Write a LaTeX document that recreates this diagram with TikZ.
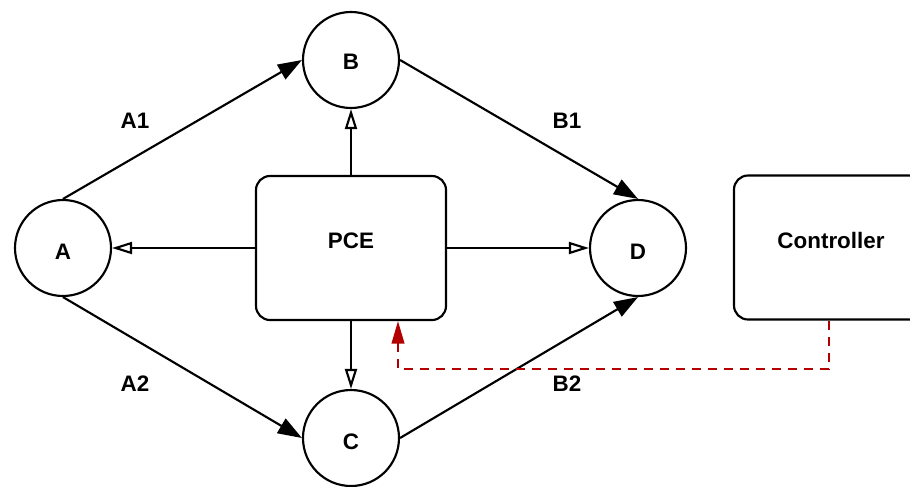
\documentclass[tikz,border=0pt]{standalone}
\usepackage{fontspec}
\setmainfont{Liberation Sans}
\usetikzlibrary{arrows.meta,calc}
\definecolor{ctrlred}{HTML}{B20000}
\begin{document}
\begin{tikzpicture}[x=0.75pt,y=-0.75pt,
  lbl/.style={font=\fontsize{16.8pt}{19pt}\selectfont\bfseries, inner sep=0pt},
  nodecirc/.style={circle, draw, line width=1.6pt, minimum size=72pt, inner sep=0pt},
  boxnode/.style={rectangle, draw, line width=1.6pt, rounded corners=10.5pt,
    minimum width=142.5pt, minimum height=108pt, inner sep=0pt},
  flow/.style={line width=1.6pt, -{Triangle[length=18pt,width=12.5pt]}},
  ctl/.style={line width=1.6pt, -{Triangle[open,length=15pt,width=9pt]}},
  ctrlline/.style={line width=1.6pt, ctrlred, dash pattern=on 6.75pt off 5.25pt,
    -{Triangle[length=17pt,width=9.5pt]}}
]
\useasboundingbox (0,0) rectangle (910,486);
\clip (0,0) rectangle (910,486);

\node[nodecirc] (a) at (63,248) {};
\node[nodecirc] (b) at (351,60) {};
\node[nodecirc] (c) at (351,438) {};
\node[nodecirc] (d) at (638,248) {};
\node[lbl] (atext) at (63,252) {A};
\node[lbl] (btext) at (351,62) {B};
\node[lbl] (ctext) at (351,442) {C};
\node[lbl] (dtext) at (638,252) {D};

\node[boxnode] (pce) at (351,248) {};
\node[boxnode] (ctrl) at (829,247.5) {};
\node[lbl] (pcetext) at (351,241) {PCE};
\node[lbl] (ctrltext) at (831,240) {Controller};

\node[lbl] (la1) at (135,121) {A1};
\node[lbl] (lb1) at (567,121) {B1};
\node[lbl] (la2) at (135,384) {A2};
\node[lbl] (lb2) at (567,384) {B2};

\draw[flow] (a.north) -- (b.west);
\draw[flow] (b.east) -- (d.north);
\draw[flow] (a.south) -- (c.west);
\draw[flow] (c.east) -- (d.south);

\draw[ctl] (pce.north) -- (b.south);
\draw[ctl] (pce.south) -- (c.north);
\draw[ctl] (pce.west) -- (a.east);
\draw[ctl] (pce.east) -- (d.west);

\draw[ctrlline] (ctrl.south) -- ++(0,48) -| ($(pce.south)+(47,0)$);
\end{tikzpicture}
\end{document}
